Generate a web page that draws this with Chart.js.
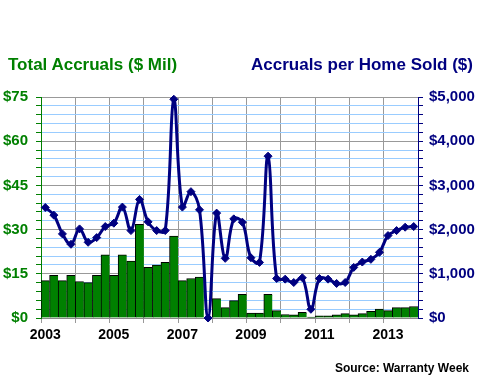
<!DOCTYPE html>
<html>
<head>
<meta charset="utf-8">
<script src="https://cdn.jsdelivr.net/npm/chart.js@4"></script>
<style>
    body { margin: 0; background: #fff; }
    #wrap { position: relative; width: 480px; height: 380px; font-family: "Liberation Sans", Arial, sans-serif; font-weight: bold; }
    #chart { position: absolute; left: 0; top: 0; }
    .title { position: absolute; font-size: 17px; white-space: nowrap; line-height: 20px; }
    #leftTitle { left: 8px; top: 55px; color: #008000; }
    #rightTitle { right: 7px; top: 55px; color: #000080; }
    #source { position: absolute; right: 11px; top: 360px; font-size: 12px; color: #000; white-space: nowrap; line-height: 16px; }
</style>
</head>
<body>
<div id="wrap">
    <canvas id="chart" width="480" height="380"></canvas>
    <div class="title" id="leftTitle">Total Accruals ($ Mil)</div>
    <div class="title" id="rightTitle">Accruals per Home Sold ($)</div>
    <div id="source">Source: Warranty Week</div>
</div>
<script>
// Quarterly data, 2003 Q1 - 2013 Q4
const years = [2003, 2004, 2005, 2006, 2007, 2008, 2009, 2010, 2011, 2012, 2013];
const quarters = years.flatMap(y => ['Q1', 'Q2', 'Q3', 'Q4'].map(q => y + ' ' + q));

// Total accruals ($ millions)
const totalAccruals = [
    12.7, 14.5, 12.7, 14.5,
    12.4, 12.0, 14.5, 21.4,
    14.5, 21.4, 19.3, 31.8,
    17.2, 18.0, 18.9, 27.8,
    12.7, 13.4, 13.9, 0,
    6.6, 3.5, 5.9, 8.0,
    1.7, 1.7, 8.0, 2.5,
    1.2, 1.1, 1.9, 0.3,
    0.7, 0.7, 1.1, 1.5,
    1.1, 1.5, 2.3, 3.0,
    2.5, 3.5, 3.5, 3.9
];

// Accruals per home sold ($)
const perHomeSold = [
    2500, 2327, 1903, 1668,
    2016, 1713, 1819, 2069,
    2145, 2509, 1978, 2683,
    2175, 1978, 1978, 4950,
    2509, 2858, 2448, 0,
    2373, 1350, 2243, 2168,
    1364, 1258, 3661, 894,
    879, 803, 910, 197,
    894, 879, 781, 803,
    1145, 1266, 1327, 1486,
    1865, 1978, 2054, 2069
];

const yearTicks = ['2003', '2005', '2007', '2009', '2011', '2013'];
const leftTicks = [0, 15, 30, 45, 60, 75];
const rightTicks = [0, 1000, 2000, 3000, 4000, 5000];

const green = '#008000';
const navy = '#000080';
const gridGray = '#999999';
const gridBlue = '#99ccff';
const clear = 'rgba(0,0,0,0)';

// vertical grid lines only at year boundaries
const yearLine = c => (c.index !== undefined && c.index % 4 === 0) ? gridGray : clear;

const ctx = document.getElementById('chart').getContext('2d');
new Chart(ctx, {
    type: 'bar',
    data: {
        labels: quarters,
        datasets: [{
            type: 'line',
            label: 'Accruals per Home Sold',
            data: perHomeSold,
            yAxisID: 'y1',
            order: 0,
            borderColor: navy,
            borderWidth: 3,
            tension: 0.4,
            pointStyle: 'rectRot',
            pointRadius: 4,
            pointBackgroundColor: navy,
            pointBorderColor: navy,
            pointBorderWidth: 1,
            clip: false
        }, {
            label: 'Total Accruals',
            data: totalAccruals,
            yAxisID: 'y',
            order: 1,
            backgroundColor: green,
            borderColor: '#000',
            borderWidth: { top: 1, left: 1, right: 0, bottom: 0 },
            borderSkipped: false,
            barPercentage: 1,
            categoryPercentage: 1
        }]
    },
    options: {
        responsive: false,
        animation: false,
        layout: { padding: { top: 97, left: 0, right: 0, bottom: 0 } },
        plugins: {
            legend: { display: false },
            tooltip: { enabled: false }
        },
        scales: {
            x: {
                afterFit: s => { s.height = 62; },
                grid: {
                    offset: true,
                    tickLength: 5,
                    color: yearLine,
                    tickColor: yearLine
                },
                ticks: {
                    autoSkip: false,
                    maxRotation: 0,
                    padding: 4,
                    color: '#000',
                    font: { family: 'Liberation Sans', size: 14, weight: 'bold' },
                    callback: (v, i) => i % 8 === 0 ? yearTicks[i / 8] : ''
                }
            },
            y: {
                position: 'left',
                min: 0,
                max: 75,
                afterFit: s => { s.width = 41; },
                border: { color: green, width: 1 },
                grid: {
                    tickLength: 5,
                    tickColor: green,
                    color: c => leftTicks.includes(c.tick.value) ? gridGray : gridBlue
                },
                ticks: {
                    stepSize: 3,
                    autoSkip: false,
                    padding: 8,
                    color: green,
                    font: { family: 'Liberation Sans', size: 15, weight: 'bold' },
                    callback: v => leftTicks.includes(v) ? '$' + v : ''
                }
            },
            y1: {
                position: 'right',
                min: 0,
                max: 5000,
                afterFit: s => { s.width = 62; },
                border: { color: navy, width: 1 },
                grid: {
                    drawOnChartArea: false,
                    tickLength: 5,
                    tickColor: navy
                },
                ticks: {
                    stepSize: 200,
                    autoSkip: false,
                    padding: 6,
                    color: navy,
                    font: { family: 'Liberation Sans', size: 15, weight: 'bold' },
                    callback: v => rightTicks.includes(v) ? '$' + v.toLocaleString('en-US') : ''
                }
            }
        }
    }
});
</script>
</body>
</html>
